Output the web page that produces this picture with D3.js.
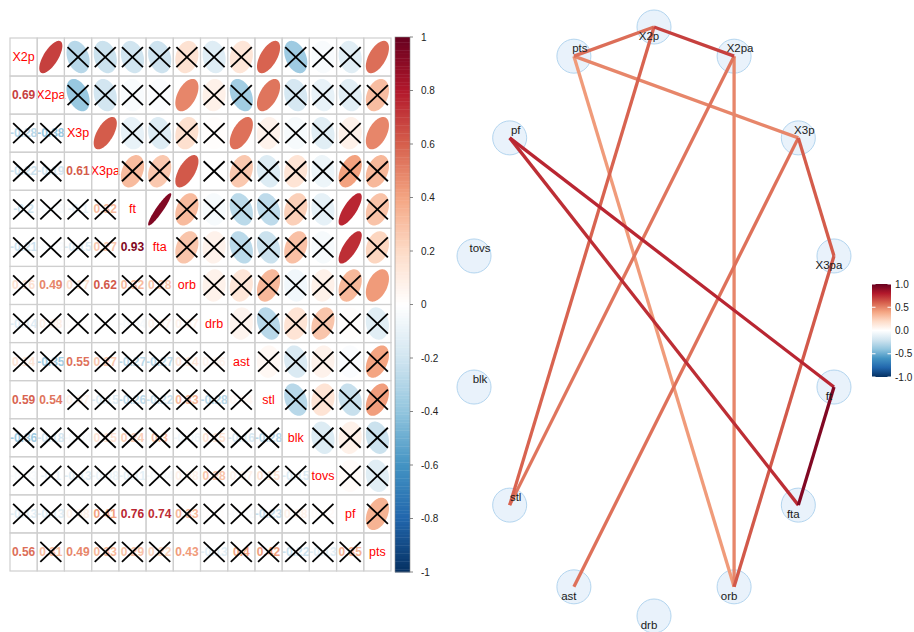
<!DOCTYPE html>
<html>
<head>
<meta charset="utf-8">
<script src="https://cdn.jsdelivr.net/npm/d3@7"></script>
<style>
  body { margin: 0; background: #fff; }
  svg { display: block; font-family: "Liberation Sans", Arial, sans-serif; }
</style>
</head>
<body>
<svg id="chart" width="914" height="632"></svg>
<script>
// Box-score variables, in matrix / circle order
const variables = ["X2p", "X2pa", "X3p", "X3pa", "ft", "fta", "orb", "drb", "ast", "stl", "blk", "tovs", "pf", "pts"];

// Lower triangle of the correlation matrix: row i holds r(i, 0..i-1)
const corrLower = [
  [],
  [0.69],
  [-0.28, -0.38],
  [-0.22, -0.19, 0.61],
  [-0.2, -0.03, -0.1, 0.32],
  [-0.21, -0.02, -0.15, 0.27, 0.93],
  [0.16, 0.49, 0.17, 0.62, 0.32, 0.28],
  [-0.14, 0.08, 0.01, 0.0, -0.04, 0.07, 0.07],
  [0.14, -0.35, 0.55, 0.27, -0.27, -0.27, 0.14, 0.06],
  [0.59, 0.54, 0.07, -0.15, -0.26, -0.22, 0.33, -0.28, 0.04],
  [-0.36, -0.18, -0.04, 0.15, 0.24, 0.3, -0.06, 0.15, -0.16, -0.28],
  [-0.03, -0.1, -0.13, -0.08, -0.11, -0.04, 0.08, 0.28, 0.07, 0.15, -0.15],
  [-0.13, -0.13, 0.08, 0.41, 0.76, 0.74, 0.33, 0.01, -0.02, -0.23, 0.08, 0.02],
  [0.56, 0.31, 0.49, 0.33, 0.29, 0.22, 0.43, -0.13, 0.4, 0.42, -0.22, -0.13, 0.35]
];

// |r| at or above this level counts as significant
const sigLevel = 0.43;

const colorbarTicks = [-1, -0.8, -0.6, -0.4, -0.2, 0, 0.2, 0.4, 0.6, 0.8, 1];
const legendTicks = [-1, -0.5, 0, 0.5, 1];
const palette = ["#053061", "#2166AC", "#4393C3", "#92C5DE", "#D1E5F0", "#FFFFFF",
                 "#FDDBC7", "#F4A582", "#D6604D", "#B2182B", "#67001F"];

// ---- helpers ----
const n = variables.length;
const corr = (i, j) => i === j ? 1 : (i > j ? corrLower[i][j] : corrLower[j][i]);
const fmt = v => String(+v.toFixed(2));

const color = d3.scaleLinear()
  .domain(palette.map((_, k) => -1 + k * 0.2))
  .range(palette)
  .interpolate(d3.interpolateRgb)
  .clamp(true);

const svg = d3.select("#chart");

// ================= Correlation matrix =================
const gx = d3.scaleBand().domain(variables).range([10, 391]);
const gy = d3.scaleBand().domain(variables).range([38, 571]);
const bw = gx.bandwidth(), bh = gy.bandwidth();

const cells = [];
for (let i = 0; i < n; i++) for (let j = 0; j < n; j++) {
  cells.push({ i, j, r: corr(i, j), row: variables[i], col: variables[j] });
}

const mat = svg.append("g");

// ellipse outline for a correlation r, centred on 0
function ellipsePath(r) {
  const a = Math.acos(r) / 2;
  const pts = d3.range(100).map(k => {
    const t = k / 99 * 2 * Math.PI;
    return [Math.cos(t + a) / 2 * 0.85 * bw, -Math.cos(t - a) / 2 * 0.85 * bh];
  });
  return d3.line()(pts) + "Z";
}

// upper triangle: ellipses
mat.selectAll("path.ell")
  .data(cells.filter(d => d.j > d.i))
  .join("path")
  .attr("class", "ell")
  .attr("transform", d => `translate(${gx(d.col) + bw / 2},${gy(d.row) + bh / 2})`)
  .attr("d", d => ellipsePath(d.r))
  .attr("fill", d => color(d.r));

// lower triangle: coefficients
mat.selectAll("text.num")
  .data(cells.filter(d => d.j < d.i))
  .join("text")
  .attr("class", "num")
  .attr("x", d => gx(d.col) + bw / 2)
  .attr("y", d => gy(d.row) + bh / 2)
  .attr("text-anchor", "middle")
  .attr("dominant-baseline", "central")
  .attr("font-size", 12)
  .attr("font-weight", "bold")
  .attr("fill", d => color(d.r))
  .text(d => fmt(d.r));

// diagonal: variable names
mat.selectAll("text.diag")
  .data(cells.filter(d => d.j === d.i))
  .join("text")
  .attr("class", "diag")
  .attr("x", d => gx(d.col) + bw / 2)
  .attr("y", d => gy(d.row) + bh / 2)
  .attr("text-anchor", "middle")
  .attr("dominant-baseline", "central")
  .attr("font-size", 12.5)
  .attr("fill", "#FF0000")
  .text(d => d.row);

// crosses over non-significant coefficients
const ns = cells.filter(d => d.i !== d.j && Math.abs(d.r) < sigLevel);
const cross = mat.selectAll("g.cross").data(ns).join("g")
  .attr("class", "cross")
  .attr("transform", d => `translate(${gx(d.col) + bw / 2},${gy(d.row) + bh / 2})`)
  .attr("stroke", "#000").attr("stroke-width", 1.8);
cross.append("line").attr("x1", -10.5).attr("y1", -10).attr("x2", 10.5).attr("y2", 10);
cross.append("line").attr("x1", -10.5).attr("y1", 10).attr("x2", 10.5).attr("y2", -10);

// grid
mat.selectAll("rect.grid")
  .data(cells)
  .join("rect")
  .attr("class", "grid")
  .attr("x", d => gx(d.col)).attr("y", d => gy(d.row))
  .attr("width", bw).attr("height", bh)
  .attr("fill", "none").attr("stroke", "#cfcfcf").attr("stroke-width", 1.2);

// colour bar
const cbY = d3.scaleLinear().domain([-1, 1]).range([572, 37]);
const cb = svg.append("g");
const bins = d3.range(200).map(k => -1 + k * 0.01);
cb.selectAll("rect")
  .data(bins)
  .join("rect")
  .attr("x", 395).attr("width", 15)
  .attr("y", d => cbY(d + 0.01))
  .attr("height", d => cbY(d) - cbY(d + 0.01) + 0.4)
  .attr("fill", d => color(d + 0.005));
cb.append("rect").attr("x", 395).attr("y", 37).attr("width", 15).attr("height", 535)
  .attr("fill", "none").attr("stroke", "#888").attr("stroke-width", 0.6);
cb.selectAll("line.tk").data(colorbarTicks).join("line")
  .attr("class", "tk")
  .attr("x1", 410).attr("x2", 413)
  .attr("y1", d => cbY(d)).attr("y2", d => cbY(d))
  .attr("stroke", "#666").attr("stroke-width", 0.8);
cb.selectAll("text").data(colorbarTicks).join("text")
  .attr("x", 421).attr("y", d => cbY(d))
  .attr("dominant-baseline", "central")
  .attr("font-size", 10).attr("fill", "#222")
  .text(d => String(d));

// ================= Network of strong correlations =================
const nx = d3.scaleLinear().domain([-1, 1]).range([469.4, 838.6]);
const ny = d3.scaleLinear().domain([-1, 1]).range([616, 27]);
const nodes = variables.map((v, k) => {
  const a = k * 2 * Math.PI / n;
  return { name: v, idx: k, x: nx(Math.sin(a)), y: ny(Math.cos(a)) };
});
const edges = [];
for (let i = 0; i < n; i++) for (let j = 0; j < i; j++) {
  const r = corr(i, j);
  if (Math.abs(r) >= sigLevel) edges.push({ s: nodes[i], t: nodes[j], r });
}
edges.sort((a, b) => Math.abs(a.r) - Math.abs(b.r));

const net = svg.append("g");
net.selectAll("circle")
  .data(nodes)
  .join("circle")
  .attr("cx", d => d.x).attr("cy", d => d.y).attr("r", 17)
  .attr("fill", "#e9f2fb").attr("stroke", "#b3d5ef").attr("stroke-width", 1);

net.selectAll("line.edge")
  .data(edges)
  .join("line")
  .attr("class", "edge")
  .attr("x1", d => d.s.x).attr("y1", d => d.s.y)
  .attr("x2", d => d.t.x).attr("y2", d => d.t.y)
  .attr("stroke", d => color(d.r))
  .attr("stroke-width", 3.3);

// labels sit up-right of the node on the upper-left arc, down-left elsewhere
const labelAbove = new Set(["X2pa", "X3p", "stl", "blk", "tovs", "pf", "pts"]);
net.selectAll("text")
  .data(nodes)
  .join("text")
  .attr("x", d => d.x + (labelAbove.has(d.name) ? 6 : -5))
  .attr("y", d => d.y + (labelAbove.has(d.name) ? -8 : 9))
  .attr("text-anchor", "middle")
  .attr("dominant-baseline", "central")
  .attr("font-size", 11.5)
  .attr("fill", "#1a1a1a")
  .text(d => d.name);

// edge colour legend
const lgY = d3.scaleLinear().domain([-1, 1]).range([377, 284]);
const defs = svg.append("defs");
const grad = defs.append("linearGradient").attr("id", "edgeGrad")
  .attr("x1", 0).attr("y1", 1).attr("x2", 0).attr("y2", 0);
grad.selectAll("stop").data(d3.range(21).map(k => -1 + k * 0.1)).join("stop")
  .attr("offset", d => (d + 1) / 2)
  .attr("stop-color", d => color(d));
const lg = svg.append("g");
lg.append("rect").attr("x", 872).attr("y", 284).attr("width", 19).attr("height", 93)
  .attr("fill", "url(#edgeGrad)");
legendTicks.forEach(v => {
  lg.append("line").attr("x1", 872).attr("x2", 875.5).attr("y1", lgY(v)).attr("y2", lgY(v))
    .attr("stroke", "#fff").attr("stroke-width", 1);
  lg.append("line").attr("x1", 887.5).attr("x2", 891).attr("y1", lgY(v)).attr("y2", lgY(v))
    .attr("stroke", "#fff").attr("stroke-width", 1);
});
lg.selectAll("text").data(legendTicks).join("text")
  .attr("x", 895).attr("y", d => lgY(d))
  .attr("dominant-baseline", "central")
  .attr("font-size", 10).attr("fill", "#222")
  .text(d => d3.format(".1f")(d).replace("−", "-"));
</script>
</body>
</html>
